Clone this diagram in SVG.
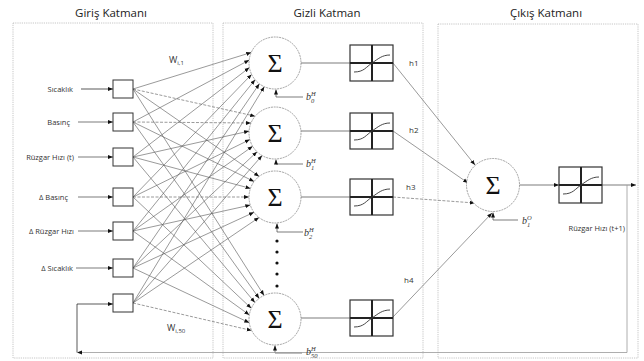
<svg xmlns="http://www.w3.org/2000/svg" xmlns:xlink="http://www.w3.org/1999/xlink" width="644" height="361" viewBox="0 0 644 361">
<style>
.panel{fill:none;stroke:#b8b8b8;stroke-width:0.8;stroke-dasharray:1.2,1}
.title{font-family:"Open Sans","Liberation Sans",sans-serif;font-size:11.5px;fill:#222;text-anchor:middle}
.lbl{font-family:"Open Sans","Liberation Sans",sans-serif;font-size:7.5px;fill:#333;text-anchor:end}
.hl{font-family:"Open Sans","Liberation Sans",sans-serif;font-size:8px;fill:#333}
.box{fill:#fff;stroke:#333;stroke-width:1}
.node{fill:#fff;stroke:#666;stroke-width:0.6;stroke-dasharray:2,0.8}
.sig{font-family:"Liberation Serif","DejaVu Serif",serif;font-size:26px;fill:#111;text-anchor:middle}
.bias{font-family:"Liberation Serif","DejaVu Serif",serif;font-style:italic;font-size:10px;fill:#333}
.w{font-family:"Open Sans","Liberation Sans",sans-serif;font-size:9px;fill:#333}
.c{fill:none;stroke:#555;stroke-width:0.6;marker-end:url(#ah)}
.d{stroke-dasharray:3,1.5}
.ln{fill:none;stroke:#444;stroke-width:0.7}
.ar{fill:none;stroke:#444;stroke-width:0.7;marker-end:url(#ah)}
</style>
<defs>
<marker id="ah" viewBox="0 0 10 10" refX="10" refY="5" markerWidth="5" markerHeight="5" markerUnits="userSpaceOnUse" orient="auto">
<path d="M0,1 L10,5 L0,9 Z" fill="#111"/>
</marker>
<g id="act">
<rect x="0" y="0" width="43" height="36" fill="#fff" stroke="#333" stroke-width="1.2"/>
<line x1="22" y1="0" x2="22" y2="36" stroke="#222" stroke-width="2"/>
<line x1="0" y1="18" x2="43" y2="18" stroke="#222" stroke-width="2"/>
<path d="M4,27 C14,27 16,22 22,18 S32,10 40,10" fill="none" stroke="#333" stroke-width="0.9"/>
</g>
</defs>
<rect width="644" height="361" fill="#fff"/>

<g id="panels">
<rect class="panel" x="13" y="23" width="200" height="335"/>
<rect class="panel" x="223" y="23" width="200" height="335"/>
<rect class="panel" x="438" y="24" width="200" height="334"/>
<text class="title" x="111" y="17">Giriş Katmanı</text>
<text class="title" x="327" y="17">Gizli Katman</text>
<text class="title" x="546" y="17">Çıkış Katmanı</text>
</g>

<g id="connectors">
<path class="c" d="M133,89 L251.2,52.5"/>
<path class="c" d="M133,122 L249.2,60.1"/>
<path class="c" d="M133,157 L249.4,67.6"/>
<path class="c" d="M133,197 L251.6,74.4"/>
<path class="c" d="M133,231 L255.1,79.7"/>
<path class="c" d="M133,268 L259.4,83.8"/>
<path class="c" d="M133,303 L264.3,86.7"/>
<path class="c d" d="M133,89 L255.2,116.2"/>
<path class="c d" d="M133,122 L251,123"/>
<path class="c" d="M133,157 L249.1,131.1"/>
<path class="c" d="M133,197 L249.8,139.6"/>
<path class="c" d="M133,231 L252.7,146.3"/>
<path class="c" d="M133,268 L257,151.8"/>
<path class="c" d="M133,303 L262.1,155.5"/>
<path class="c" d="M133,89 L259.1,176.4"/>
<path class="c" d="M133,122 L254.1,181.5"/>
<path class="c" d="M133,157 L250.5,188.4"/>
<path class="c d" d="M133,197 L249,197"/>
<path class="c" d="M133,231 L250.3,205.1"/>
<path class="c" d="M133,268 L254,212.3"/>
<path class="c" d="M133,303 L259,217.5"/>
<path class="c" d="M133,89 L264,295.4"/>
<path class="c" d="M133,122 L259.2,298.4"/>
<path class="c" d="M133,157 L254.9,302.5"/>
<path class="c" d="M133,197 L251.3,308.3"/>
<path class="c" d="M133,231 L249.3,314.9"/>
<path class="c" d="M133,268 L249.3,322.7"/>
<path class="c d" d="M133,303 L251.7,330.5"/>

<path class="ar" style="stroke:#111" d="M81,89 H113"/>
<path class="ar" d="M78,122 H113"/>
<path class="ar" d="M78,157 H113"/>
<path class="ar" d="M78,197 H113"/>
<path class="ar" d="M78,231 H113"/>
<path class="ar" d="M76,268 H113"/>

<path class="ln" d="M301,63 H350"/>
<path class="ln" d="M301,131 H350"/>
<path class="ln" d="M301,197 H350"/>
<path class="ln" d="M301,318 H350"/>

<path class="ar" d="M303,97 H276 V89.5"/>
<path class="ar" d="M303,164 H276 V159.5"/>
<path class="ar" d="M303,232 H277 V223.5"/>
<path class="ar" d="M302,353 H275 V345.5"/>

<path class="c" d="M393,63 L475,165"/>
<path class="c" d="M393,131 L468,183"/>
<path class="c d" d="M393,197 L475,203"/>
<path class="c" d="M393,317 L492,213"/>

<path class="ar" d="M518,220 H493 V212.5"/>

<path class="ar" d="M519.5,185 H559"/>
<path class="ar" d="M602,185 H636"/>

<path fill="none" stroke="#999" stroke-width="0.8" d="M627,185 V352.5 H78"/>
<path d="M77,352.5 L82,350.5 L82,354.5 Z" fill="#111"/>
<path class="ar" style="stroke:#111" d="M77,352.5 V304 H113"/>
</g>

<g id="inputs">
<g id="in1"><rect class="box" x="113" y="80" width="20" height="18"/><text class="lbl" x="73" y="91.5">Sıcaklık</text></g>
<g id="in2"><rect class="box" x="113" y="113" width="20" height="18"/><text class="lbl" x="70" y="124.5">Basınç</text></g>
<g id="in3"><rect class="box" x="113" y="148" width="20" height="18"/><text class="lbl" x="74" y="159.5">Rüzgar Hızı (t)</text></g>
<g id="in4"><rect class="box" x="113" y="188" width="20" height="18"/><text class="lbl" x="68" y="199.5">Δ Basınç</text></g>
<g id="in5"><rect class="box" x="113" y="222" width="20" height="18"/><text class="lbl" x="74" y="233.5">Δ Rüzgar Hızı</text></g>
<g id="in6"><rect class="box" x="113" y="259" width="20" height="18"/><text class="lbl" x="73" y="270.5">Δ Sıcaklık</text></g>
<g id="in7"><rect class="box" x="113" y="294" width="20" height="18"/></g>
</g>

<g id="weights">
<text class="w" x="169" y="63">W<tspan font-size="6" dy="2">i,1</tspan></text>
<text class="w" x="167" y="331">W<tspan font-size="6" dy="2">i,50</tspan></text>
</g>

<g id="hidden">
<g id="h1node"><circle class="node" cx="275" cy="63" r="26"/><text class="sig" x="275" y="72">Σ</text></g>
<g id="h2node"><circle class="node" cx="275" cy="133" r="26"/><text class="sig" x="275" y="142">Σ</text></g>
<g id="h3node"><circle class="node" cx="275" cy="197" r="26"/><text class="sig" x="275" y="206">Σ</text></g>
<g id="h50node"><circle class="node" cx="275" cy="319" r="26"/><text class="sig" x="275" y="328">Σ</text></g>
<g id="dots" fill="#111">
<circle cx="277" cy="241" r="1.6"/><circle cx="277" cy="252" r="1.6"/><circle cx="277" cy="263" r="1.6"/><circle cx="277" cy="274" r="1.6"/><circle cx="277" cy="286" r="1.6"/>
</g>
<g id="biasH">
<text class="bias" x="306" y="100">b<tspan font-size="6.5" dy="-4">H</tspan><tspan font-size="6.5" dx="-4.8" dy="7">0</tspan></text>
<text class="bias" x="306" y="167">b<tspan font-size="6.5" dy="-4">H</tspan><tspan font-size="6.5" dx="-4.8" dy="7">1</tspan></text>
<text class="bias" x="304" y="236">b<tspan font-size="6.5" dy="-4">H</tspan><tspan font-size="6.5" dx="-4.8" dy="7">2</tspan></text>
<text class="bias" x="306" y="355">b<tspan font-size="6.5" dy="-4">H</tspan><tspan font-size="6.5" dx="-4.8" dy="7">50</tspan></text>
</g>
</g>

<g id="activations">
<g id="act1"><use xlink:href="#act" href="#act" x="350" y="45"/><text class="hl" x="409" y="66">h1</text></g>
<g id="act2"><use xlink:href="#act" href="#act" x="350" y="113"/><text class="hl" x="409" y="133">h2</text></g>
<g id="act3"><use xlink:href="#act" href="#act" x="350" y="179"/><text class="hl" x="406" y="190">h3</text></g>
<g id="act4"><use xlink:href="#act" href="#act" x="350" y="300"/><text class="hl" x="404" y="283">h4</text></g>
</g>

<g id="output">
<g id="outnode"><circle class="node" cx="493" cy="185" r="26.5"/><text class="sig" x="493" y="194">Σ</text></g>
<text class="bias" x="522" y="224">b<tspan font-size="6.5" dy="-4">O</tspan><tspan font-size="6.5" dx="-4.8" dy="7">1</tspan></text>
<g id="outact"><use xlink:href="#act" href="#act" x="559" y="167"/></g>
<text class="lbl" x="625" y="231">Rüzgar Hızı (t+1)</text>
</g>
</svg>
